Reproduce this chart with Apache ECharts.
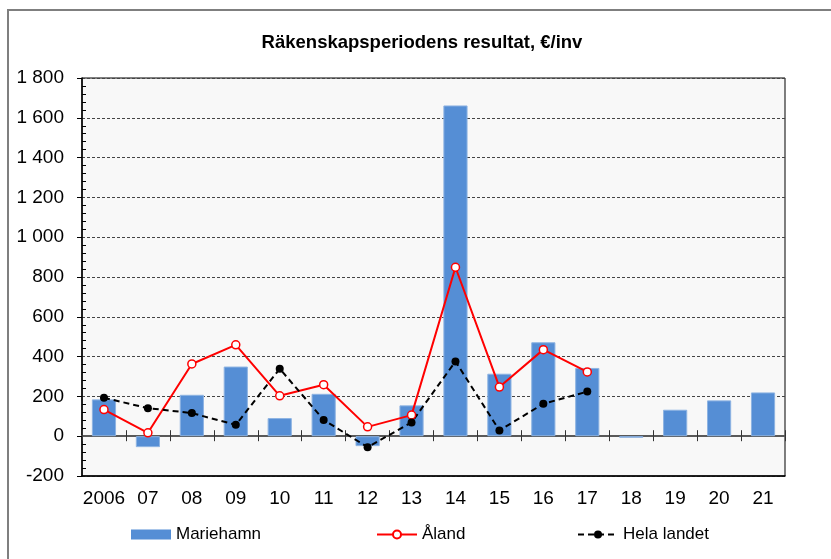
<!DOCTYPE html>
<html>
<head>
<meta charset="utf-8">
<script src="https://cdn.jsdelivr.net/npm/echarts@6/dist/echarts.min.js"></script>
<style>
  html, body { margin: 0; padding: 0; background: #fff; }
  #chart-container { width: 831px; height: 559px; }
</style>
</head>
<body>
<div id="chart-container"></div>
<script>
// data
var years = ['2006', '07', '08', '09', '10', '11', '12', '13', '14', '15', '16', '17', '18', '19', '20', '21'];
var mariehamn = [185, -55, 208, 350, 91, 213, -50, 155, 1662, 314, 472, 343, -8, 133, 180, 220];
var aland = [134, 17, 363, 459, 203, 259, 47, 106, 849, 247, 435, 323, null, null, null, null];
var helaLandet = [193, 141, 116, 57, 339, 82, -55, 69, 376, 29, 163, 224, null, null, null, null];

var font = "'Liberation Sans', Arial, sans-serif";

var dom = document.getElementById('chart-container');
var myChart = echarts.init(dom, null, { renderer: 'canvas' });

function fmt(v) {
  var s = String(Math.abs(v));
  if (s.length > 3) s = s.slice(0, s.length - 3) + ' ' + s.slice(-3);
  return (v < 0 ? '-' : '') + s;
}

var legendText = { fontFamily: font, fontSize: 17, color: '#000' };

var option = {
  animation: false,
  backgroundColor: '#fff',
  title: {
    text: 'Räkenskapsperiodens resultat, €/inv',
    left: 417,
    textAlign: 'center',
    top: 28,
    textStyle: { fontFamily: font, fontSize: 18.5, fontWeight: 'bold', color: '#000' }
  },
  graphic: [
    {
      type: 'polyline',
      shape: { points: [[8, 559], [8, 10], [831, 10]] },
      style: { stroke: '#7f7f7f', lineWidth: 2, fill: null }
    }
  ],
  legend: [
    {
      data: [{ name: 'Mariehamn', icon: 'rect', itemStyle: { borderWidth: 0 } }],
      left: 131, top: 526, padding: 0,
      itemWidth: 40, itemHeight: 10,
      textStyle: legendText
    },
    {
      data: ['Åland'],
      left: 376, top: 526, padding: 0,
      itemWidth: 40, itemHeight: 10,
      textStyle: legendText
    },
    {
      data: ['Hela landet'],
      left: 577, top: 526, padding: 0,
      itemWidth: 40, itemHeight: 10,
      textStyle: legendText
    }
  ],
  grid: {
    left: 82,
    right: 46,
    top: 78,
    bottom: 83,
    show: true,
    backgroundColor: '#f8f8f8',
    borderColor: '#000',
    borderWidth: 1
  },
  xAxis: [
    {
      // labels along the bottom edge
      type: 'category',
      data: years,
      position: 'bottom',
      axisLine: { onZero: false, lineStyle: { color: '#000', width: 1.5 } },
      axisTick: { show: false },
      axisLabel: { interval: 0, fontFamily: font, fontSize: 19, color: '#000', margin: 13 }
    },
    {
      // zero line with ticks outward
      type: 'category',
      data: years,
      position: 'bottom',
      axisLine: { onZero: true, onZeroAxisIndex: 0, lineStyle: { color: '#595959', width: 2 } },
      axisTick: { show: true, interval: 0, length: 5, lineStyle: { color: '#333', width: 1 } },
      axisLabel: { show: false }
    },
    {
      // ticks inward across the zero line
      type: 'category',
      data: years,
      position: 'bottom',
      axisLine: { show: false, onZero: true, onZeroAxisIndex: 0 },
      axisTick: { show: true, interval: 0, inside: true, length: 6, lineStyle: { color: '#333', width: 1 } },
      axisLabel: { show: false }
    }
  ],
  yAxis: {
    type: 'value',
    min: -200,
    max: 1800,
    interval: 200,
    axisLine: { show: true, lineStyle: { color: '#000', width: 1.5 } },
    axisTick: { show: true, length: 5, lineStyle: { color: '#000' } },
    minorTick: { show: true, splitNumber: 5, length: -4, lineStyle: { color: '#000' } },
    axisLabel: {
      fontFamily: font, fontSize: 19, color: '#000', margin: 18,
      formatter: fmt
    },
    splitLine: { show: true, lineStyle: { color: '#444', type: [3, 2], width: 1 } }
  },
  series: [
    {
      name: 'Mariehamn',
      type: 'bar',
      barWidth: '55%',
      itemStyle: { color: '#558ed5', borderColor: '#8db3e2', borderWidth: 1 },
      data: mariehamn
    },
    {
      name: 'Åland',
      type: 'line',
      symbol: 'circle',
      symbolSize: 8,
      showAllSymbol: true,
      lineStyle: { color: '#ff0000', width: 2 },
      itemStyle: { color: '#fff', borderColor: '#ff0000', borderWidth: 1.5 },
      data: aland
    },
    {
      name: 'Hela landet',
      type: 'line',
      symbol: 'circle',
      symbolSize: 8,
      showAllSymbol: true,
      lineStyle: { color: '#000', width: 2, type: [6, 4] },
      itemStyle: { color: '#000' },
      data: helaLandet
    }
  ]
};

if (option && typeof option === 'object') {
  myChart.setOption(option);
}

window.addEventListener('resize', myChart.resize);
</script>
</body>
</html>
